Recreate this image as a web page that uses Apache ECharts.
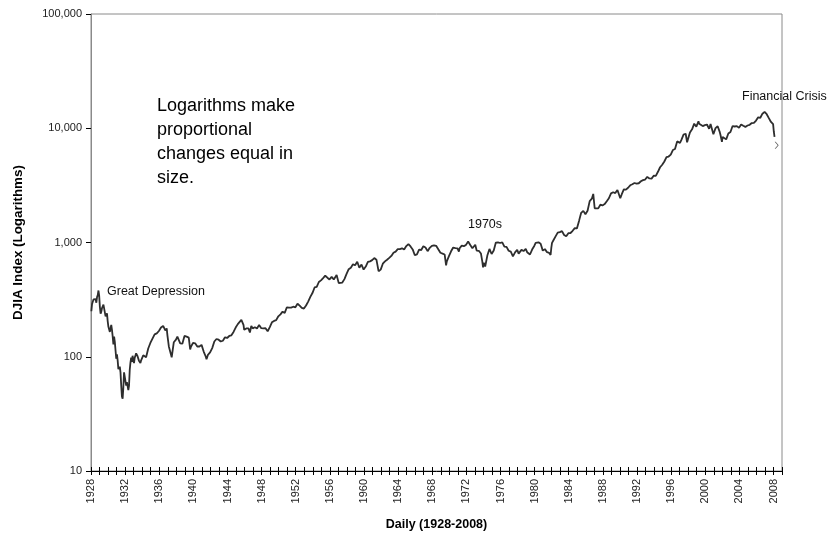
<!DOCTYPE html>
<html>
<head>
<meta charset="utf-8">
<script src="https://cdn.jsdelivr.net/npm/echarts@6/dist/echarts.min.js"></script>
<style>
  html, body { margin: 0; padding: 0; background: #fff; }
  #chart { width: 830px; height: 537px; }
</style>
</head>
<body>
<div id="chart"></div>
<script>
// DJIA closes (month, value)
const dates = [
  '1928-10', '1928-11', '1928-12',
  '1929-01', '1929-02', '1929-03', '1929-04', '1929-05', '1929-06', '1929-07', '1929-08', '1929-09', '1929-10', '1929-11', '1929-12',
  '1930-01', '1930-02', '1930-03', '1930-04', '1930-05', '1930-06', '1930-07', '1930-08', '1930-09', '1930-10', '1930-11', '1930-12',
  '1931-01', '1931-02', '1931-03', '1931-04', '1931-05', '1931-06', '1931-07', '1931-08', '1931-09', '1931-10', '1931-11', '1931-12',
  '1932-01', '1932-02', '1932-03', '1932-04', '1932-05', '1932-06', '1932-07', '1932-08', '1932-09', '1932-10', '1932-11', '1932-12',
  '1933-01', '1933-02', '1933-03', '1933-04', '1933-05', '1933-06', '1933-07', '1933-08', '1933-09', '1933-10', '1933-11', '1933-12',
  '1934-01', '1934-02', '1934-03', '1934-04', '1934-05', '1934-06', '1934-07', '1934-08', '1934-09', '1934-10', '1934-11', '1934-12',
  '1935-01', '1935-03', '1935-06', '1935-09', '1935-12',
  '1936-03', '1936-06', '1936-09', '1936-12',
  '1937-02', '1937-03', '1937-06', '1937-08', '1937-09', '1937-10', '1937-11', '1937-12',
  '1938-03', '1938-06', '1938-09', '1938-11', '1938-12',
  '1939-03', '1939-04', '1939-06', '1939-08', '1939-09', '1939-12',
  '1940-03', '1940-05', '1940-06', '1940-09', '1940-12',
  '1941-03', '1941-06', '1941-09', '1941-12',
  '1942-03', '1942-04', '1942-06', '1942-09', '1942-12',
  '1943-03', '1943-06', '1943-09', '1943-12',
  '1944-03', '1944-06', '1944-09', '1944-12',
  '1945-03', '1945-06', '1945-09', '1945-12',
  '1946-02', '1946-05', '1946-08', '1946-09', '1946-10', '1946-12',
  '1947-03', '1947-05', '1947-07', '1947-09', '1947-12',
  '1948-03', '1948-06', '1948-09', '1948-12',
  '1949-03', '1949-06', '1949-09', '1949-12',
  '1950-03', '1950-06', '1950-09', '1950-12',
  '1951-03', '1951-06', '1951-09', '1951-12',
  '1952-03', '1952-06', '1952-09', '1952-12',
  '1953-03', '1953-06', '1953-09', '1953-12',
  '1954-03', '1954-06', '1954-09', '1954-12',
  '1955-03', '1955-06', '1955-09', '1955-12',
  '1956-03', '1956-06', '1956-09', '1956-12',
  '1957-03', '1957-07', '1957-10', '1957-12',
  '1958-03', '1958-06', '1958-09', '1958-12',
  '1959-03', '1959-06', '1959-09', '1959-12',
  '1960-03', '1960-06', '1960-09', '1960-12',
  '1961-03', '1961-06', '1961-09', '1961-12',
  '1962-03', '1962-06', '1962-09', '1962-12',
  '1963-03', '1963-06', '1963-09', '1963-12',
  '1964-03', '1964-06', '1964-09', '1964-12',
  '1965-03', '1965-06', '1965-09', '1965-12',
  '1966-02', '1966-03', '1966-06', '1966-09', '1966-10', '1966-12',
  '1967-03', '1967-06', '1967-09', '1967-12',
  '1968-03', '1968-06', '1968-09', '1968-12',
  '1969-03', '1969-06', '1969-09', '1969-12',
  '1970-03', '1970-05', '1970-06', '1970-09', '1970-12',
  '1971-03', '1971-04', '1971-06', '1971-09', '1971-11', '1971-12',
  '1972-03', '1972-06', '1972-09', '1972-12',
  '1973-01', '1973-03', '1973-06', '1973-08', '1973-10', '1973-12',
  '1974-03', '1974-06', '1974-08', '1974-09', '1974-10', '1974-12',
  '1975-03', '1975-06', '1975-09', '1975-12',
  '1976-03', '1976-06', '1976-09', '1976-12',
  '1977-03', '1977-06', '1977-09', '1977-12',
  '1978-03', '1978-06', '1978-09', '1978-11', '1978-12',
  '1979-03', '1979-06', '1979-09', '1979-11', '1979-12',
  '1980-03', '1980-06', '1980-09', '1980-11', '1980-12',
  '1981-03', '1981-06', '1981-09', '1981-12',
  '1982-03', '1982-06', '1982-08', '1982-09', '1982-10', '1982-12',
  '1983-03', '1983-06', '1983-09', '1983-11', '1983-12',
  '1984-03', '1984-06', '1984-07', '1984-09', '1984-12',
  '1985-03', '1985-06', '1985-09', '1985-12',
  '1986-03', '1986-06', '1986-09', '1986-12',
  '1987-03', '1987-06', '1987-08', '1987-09', '1987-10', '1987-12',
  '1988-03', '1988-06', '1988-09', '1988-12',
  '1989-03', '1989-06', '1989-09', '1989-12',
  '1990-03', '1990-06', '1990-07', '1990-10', '1990-12',
  '1991-03', '1991-06', '1991-09', '1991-12',
  '1992-03', '1992-06', '1992-09', '1992-12',
  '1993-03', '1993-06', '1993-09', '1993-12',
  '1994-03', '1994-06', '1994-09', '1994-12',
  '1995-03', '1995-06', '1995-09', '1995-12',
  '1996-03', '1996-06', '1996-09', '1996-12',
  '1997-03', '1997-06', '1997-08', '1997-10', '1997-12',
  '1998-03', '1998-06', '1998-07', '1998-08', '1998-09', '1998-12',
  '1999-03', '1999-06', '1999-09', '1999-12',
  '2000-01', '2000-03', '2000-06', '2000-09', '2000-12',
  '2001-03', '2001-05', '2001-06', '2001-09', '2001-12',
  '2002-03', '2002-06', '2002-07', '2002-09', '2002-10', '2002-12',
  '2003-03', '2003-06', '2003-09', '2003-12',
  '2004-03', '2004-06', '2004-09', '2004-12',
  '2005-03', '2005-06', '2005-09', '2005-12',
  '2006-03', '2006-06', '2006-09', '2006-12',
  '2007-03', '2007-06', '2007-07', '2007-09', '2007-10', '2007-12',
  '2008-03', '2008-06', '2008-09', '2008-10', '2008-11'
];
const djia = [
  250, 290, 300,
  317, 317, 308, 319, 297, 333, 347, 380, 343, 273, 238, 248,
  267, 272, 286, 279, 275, 226, 234, 240, 204, 183, 183, 165,
  167, 190, 172, 151, 128, 150, 135, 140, 96, 105, 93, 78,
  76, 82, 73, 56, 45, 43, 54, 73, 71, 61, 56, 60,
  61, 51, 56, 77, 89, 98, 90, 102, 94, 88, 98, 100,
  107, 103, 101, 100, 92, 95, 88, 93, 92, 93, 103, 104,
  102, 99, 118, 132, 144,
  157, 160, 168, 180,
  187, 186, 170, 177, 154, 138, 123, 121,
  99, 134, 141, 150, 154,
  131, 128, 130, 134, 152, 150,
  147, 116, 122, 132, 131,
  123, 123, 127, 111,
  100, 95, 104, 109, 119,
  136, 143, 141, 136,
  138, 148, 146, 152,
  154, 165, 180, 193,
  200, 210, 190, 172, 169, 177,
  177, 163, 186, 177, 181,
  177, 190, 178, 177,
  178, 167, 182, 200,
  206, 209, 226, 235,
  248, 242, 271, 269,
  269, 274, 271, 291,
  280, 268, 264, 281,
  304, 334, 361, 404,
  409, 451, 466, 488,
  512, 492, 475, 500,
  475, 520, 441, 436,
  446, 478, 532, 584,
  602, 644, 632, 679,
  602, 641, 580, 616,
  676, 684, 701, 731,
  707, 561, 579, 652,
  683, 707, 733, 763,
  813, 832, 875, 874,
  889, 868, 930, 969,
  995, 924, 870, 774, 744, 786,
  865, 860, 927, 905,
  840, 898, 935, 944,
  935, 873, 813, 800,
  785, 631, 683, 760, 838,
  904, 941, 891, 887, 831, 890,
  940, 929, 953, 1020,
  1052, 951, 891, 887, 956, 850,
  846, 802, 678, 607, 665, 616,
  768, 878, 793, 852,
  999, 1002, 990, 1004,
  919, 916, 847, 831,
  757, 819, 865, 799, 805,
  862, 841, 878, 822, 838,
  785, 867, 932, 993, 963,
  1003, 976, 849, 875,
  822, 811, 777, 896, 991, 1046,
  1130, 1221, 1233, 1276, 1258,
  1164, 1132, 1115, 1206, 1211,
  1266, 1335, 1328, 1546,
  1818, 1892, 1767, 1895,
  2304, 2418, 2662, 2596, 1993, 1938,
  1988, 2141, 2112, 2168,
  2293, 2440, 2692, 2753,
  2707, 2880, 2905, 2442, 2633,
  2913, 2906, 3016, 3168,
  3235, 3318, 3271, 3301,
  3435, 3516, 3555, 3754,
  3636, 3625, 3843, 3834,
  4158, 4556, 4789, 5117,
  5587, 5655, 5882, 6448,
  6584, 7673, 7622, 7442, 7908,
  8800, 8952, 8883, 7539, 7843, 9181,
  9786, 10971, 10337, 11497,
  10941, 10922, 10448, 10651, 10787,
  9879, 10912, 10502, 8848, 10022,
  10404, 9243, 8737, 7592, 8397, 8342,
  7992, 8985, 9275, 10454,
  10358, 10435, 10080, 10783,
  10504, 10275, 10569, 10718,
  11109, 11150, 11679, 12463,
  12354, 13409, 13212, 13896, 13930, 13264,
  12263, 11350, 10851, 9325, 8400
];
// stray last mark after the line ends
const tailDates = ['2009-02'];
const tailValues = [7100];

const yTicks = [10, 100, 1000, 10000, 100000];
const xFirstYear = 1928;
const xLastYear = 2009;
const xLabelStep = 4;

// category axis in the source starts at Oct 1928, labels sit on October of each year
const toAxis = (s) => {
  const [y, m] = s.split('-').map(Number);
  return y + (m - 0.5) / 12 - 0.75;
};

const lineData = dates.map((d, i) => [toAxis(d), djia[i]]);
const tailData = tailDates.map((d, i) => [toAxis(d), tailValues[i]]);

const FONT = '"Liberation Sans", Arial, sans-serif';

const chartDom = document.getElementById('chart');
const myChart = echarts.init(chartDom);

const xBase = {
  type: 'value',
  min: xFirstYear,
  max: xLastYear,
  interval: 1,
  position: 'bottom',
  splitLine: { show: false },
};

const option = {
  animation: false,
  backgroundColor: '#fff',
  grid: {
    left: 91,
    right: 48,
    top: 14,
    bottom: 66,
    containLabel: false,
    outerBoundsMode: 'none',
    show: true,
    borderColor: '#8a8a8a',
    borderWidth: 1,
  },
  xAxis: [
    Object.assign({}, xBase, {
      name: 'Daily (1928-2008)',
      nameLocation: 'middle',
      nameGap: 47,
      nameTextStyle: { fontFamily: FONT, fontWeight: 'bold', fontSize: 12.5, color: '#000' },
      axisLine: { show: true, lineStyle: { color: '#000', width: 1 } },
      axisTick: { show: true, inside: false, length: 4, lineStyle: { color: '#000' } },
      axisLabel: {
        rotate: 90,
        margin: 8,
        fontFamily: FONT,
        fontSize: 11,
        color: '#222',
        formatter: (v) => {
          const y = Math.round(v);
          return (y - xFirstYear) % xLabelStep === 0 ? String(y) : '';
        },
      },
    }),
    // second copy gives the ticks that cross the axis line
    Object.assign({}, xBase, {
      axisLine: { show: false },
      axisTick: { show: true, inside: true, length: 4, lineStyle: { color: '#000' } },
      axisLabel: { show: false },
    }),
  ],
  yAxis: {
    type: 'log',
    logBase: 10,
    min: yTicks[0],
    max: yTicks[yTicks.length - 1],
    name: 'DJIA Index (Logarithms)',
    nameLocation: 'middle',
    nameGap: 66,
    nameTextStyle: { fontFamily: FONT, fontWeight: 'bold', fontSize: 13.4, color: '#000' },
    splitLine: { show: false },
    axisLine: { show: true, lineStyle: { color: '#8a8a8a', width: 1 } },
    axisTick: { show: true, length: 5, lineStyle: { color: '#000' } },
    axisLabel: {
      margin: 9,
      fontFamily: FONT,
      fontSize: 11,
      color: '#222',
      formatter: (v) => Math.round(v).toLocaleString('en-US'),
    },
  },
  graphic: [
    {
      type: 'text',
      left: 157,
      top: 94,
      style: {
        text: 'Logarithms make\nproportional\nchanges equal in\nsize.',
        font: '18px ' + FONT,
        lineHeight: 24,
        fill: '#000',
      },
    },
    {
      type: 'text',
      left: 107,
      top: 285,
      style: { text: 'Great Depression', font: '12.5px ' + FONT, fill: '#111' },
    },
    {
      type: 'text',
      left: 468,
      top: 218,
      style: { text: '1970s', font: '12.5px ' + FONT, fill: '#111' },
    },
    {
      type: 'text',
      left: 742,
      top: 90,
      style: { text: 'Financial Crisis', font: '12.5px ' + FONT, fill: '#111' },
    },
  ],
  series: [
    {
      name: 'DJIA',
      type: 'line',
      data: lineData,
      showSymbol: false,
      xAxisIndex: 0,
      lineStyle: { color: '#2e2e2e', width: 1.8 },
    },
    {
      name: 'tail',
      type: 'scatter',
      data: tailData,
      xAxisIndex: 0,
      symbol: 'path://M0,0L1.5,0L6,5L1.5,10L0,10L4.5,5Z',
      symbolSize: [4, 7],
      itemStyle: { color: '#333' },
    },
  ],
};

myChart.setOption(option);

window.addEventListener('resize', function () {
  myChart.resize();
});
</script>
</body>
</html>
